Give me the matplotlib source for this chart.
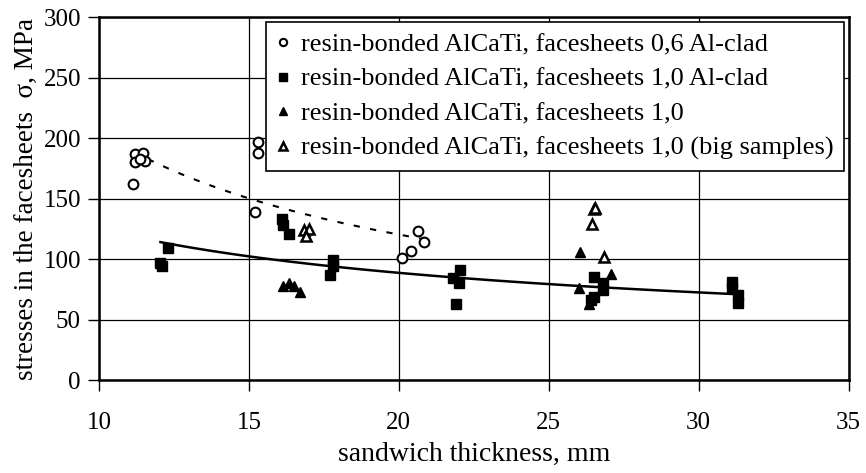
import numpy as np
import matplotlib.pyplot as plt

plt.rcParams['font.family'] = ['Liberation Serif', 'DejaVu Serif']

# facesheets 0,6 Al-clad (open circles)
x_06 = [11.14, 11.2, 11.48, 11.2, 11.53, 11.37, 15.2, 15.3, 15.3, 20.12, 20.42, 20.64, 20.84]
y_06 = [162, 187, 188, 180, 181, 183, 139, 188, 197, 101, 107, 123, 114]

# facesheets 1,0 Al-clad (filled squares)
x_10clad = [12.05, 12.1, 12.3, 16.1, 16.15, 16.35, 17.8, 17.8, 17.7,
            21.8, 22.0, 22.03, 21.9, 26.5, 26.8, 26.8, 26.5, 26.4,
            31.1, 31.1, 31.3, 31.3]
y_10clad = [97, 94, 109, 133, 128, 121, 99, 94, 87,
            84, 80, 91, 63, 85, 80, 74, 69, 66,
            81, 76, 70, 64]

# facesheets 1,0 (filled triangles)
x_10 = [16.15, 16.35, 16.5, 16.7, 26.03, 26.0, 26.34, 27.09]
y_10 = [78, 80, 78, 73, 106, 76, 63, 88]

# facesheets 1,0 big samples (open triangles)
x_10big = [16.85, 17.0, 16.9, 26.5, 26.55, 26.45, 26.84]
y_10big = [124, 125, 119, 141, 142, 129, 102]

labels = ['resin-bonded AlCaTi, facesheets 0,6 Al-clad',
          'resin-bonded AlCaTi, facesheets 1,0 Al-clad',
          'resin-bonded AlCaTi, facesheets 1,0',
          'resin-bonded AlCaTi, facesheets 1,0 (big samples)']


def power_trend(x, y):
    # Excel-style power trendline y = a * x^b
    b, ln_a = np.polyfit(np.log(x), np.log(y), 1)
    xs = np.linspace(min(x), max(x), 100)
    return xs, np.exp(ln_a) * xs ** b


fig = plt.figure(figsize=(8.66, 4.73), dpi=100)
ax = fig.add_axes([0.1143, 0.1966, 0.8655, 0.7674])

ax.plot(x_06, y_06, 'o', mfc='white', mec='black', mew=1.5, ms=7, ls='none', label=labels[0], zorder=3)
ax.plot(x_10clad, y_10clad, 's', color='black', ms=7, ls='none', label=labels[1], zorder=3)
ax.plot(x_10, y_10, '^', color='black', ms=7.5, ls='none', label=labels[2], zorder=3)
ax.plot(x_10big, y_10big, '^', mfc='white', mec='black', mew=1.8, ms=7.5, ls='none', label=labels[3], zorder=3)

xs, ys = power_trend(x_06, y_06)
ax.plot(xs, ys, color='black', lw=1.5, ls=(0, (3, 5)), zorder=2)
xs, ys = power_trend(x_10clad, y_10clad)
ax.plot(xs, ys, color='black', lw=1.8, zorder=2)

ax.set_xlim(10, 35)
ax.set_ylim(0, 300)
ax.set_xticks(np.arange(10, 36, 5))
ax.set_yticks(np.arange(0, 301, 50))
ax.grid(True, color='black', lw=0.9)
ax.set_axisbelow(True)
for s in ax.spines.values():
    s.set_linewidth(1.8)
ax.tick_params(direction='out', length=8, width=1, labelsize=18)
ax.tick_params(axis='x', pad=15)
ax.tick_params(axis='y', pad=5)

ax.set_xlabel('sandwich thickness, mm', fontsize=20, labelpad=6)
ax.set_ylabel('stresses in the facesheets  σ, MPa', fontsize=19.5, labelpad=3)

leg = ax.legend(loc='upper right', bbox_to_anchor=(0.998, 0.993), borderaxespad=0.1,
                fontsize=19, markerscale=0.75, handlelength=0.5, handletextpad=0.45,
                labelspacing=0.42, fancybox=False, framealpha=1, borderpad=0.4)
leg.get_frame().set_edgecolor('black')
leg.get_frame().set_linewidth(1.2)

fig.savefig('out.png', dpi=100)
